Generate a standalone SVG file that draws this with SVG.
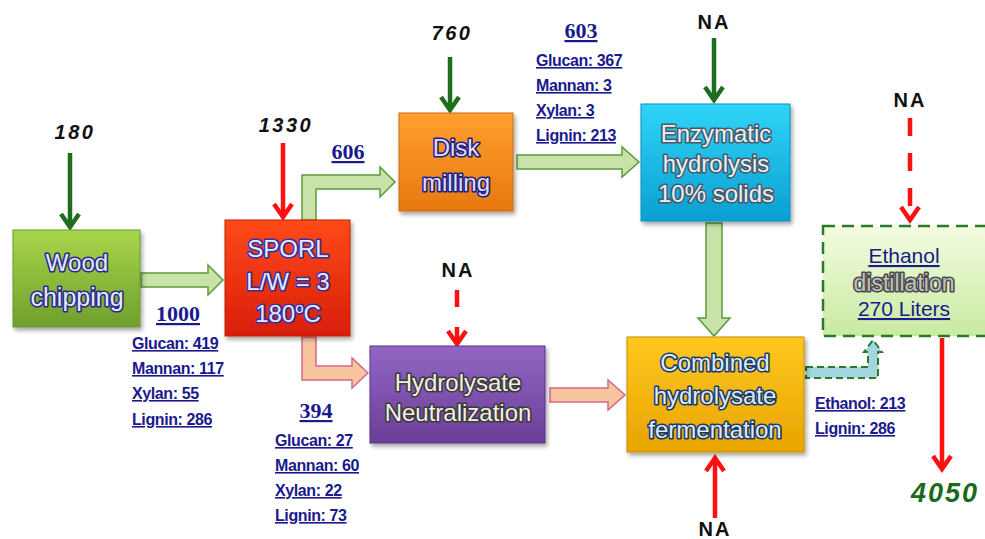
<svg xmlns="http://www.w3.org/2000/svg" width="985" height="539" viewBox="0 0 985 539">
<defs>
<linearGradient id="gGreen" x1="0" y1="0" x2="0" y2="1"><stop offset="0" stop-color="#a8d64a"/><stop offset="1" stop-color="#6f9f2c"/></linearGradient>
<linearGradient id="gRed" x1="0" y1="0" x2="0" y2="1"><stop offset="0" stop-color="#ff4a1a"/><stop offset="1" stop-color="#d81e08"/></linearGradient>
<linearGradient id="gOrange" x1="0" y1="0" x2="0" y2="1"><stop offset="0" stop-color="#ffa030"/><stop offset="1" stop-color="#e8780e"/></linearGradient>
<linearGradient id="gCyan" x1="0" y1="0" x2="0" y2="1"><stop offset="0" stop-color="#30d4f8"/><stop offset="1" stop-color="#0a9fd2"/></linearGradient>
<linearGradient id="gPurple" x1="0" y1="0" x2="0" y2="1"><stop offset="0" stop-color="#9266c4"/><stop offset="1" stop-color="#6a3e98"/></linearGradient>
<linearGradient id="gGold" x1="0" y1="0" x2="0" y2="1"><stop offset="0" stop-color="#ffc820"/><stop offset="1" stop-color="#e8a400"/></linearGradient>
<linearGradient id="gLight" x1="0" y1="0" x2="0" y2="1"><stop offset="0" stop-color="#f4fce0"/><stop offset="1" stop-color="#c8eaa0"/></linearGradient>
<filter id="sh" x="-10%" y="-10%" width="125%" height="130%"><feDropShadow dx="2" dy="3" stdDeviation="2" flood-color="#000" flood-opacity="0.35"/></filter>
</defs>
<style>
.box{filter:url(#sh);}
.bt{font-family:"Liberation Sans",Arial,sans-serif;font-size:24px;text-anchor:middle;paint-order:stroke;stroke-width:3.2px;stroke-linejoin:round;}
.inlab{font-family:"Liberation Sans",Arial,sans-serif;font-weight:bold;font-style:italic;font-size:20px;letter-spacing:2.5px;text-anchor:middle;fill:#111;}
.na{font-family:"Liberation Sans",Arial,sans-serif;font-weight:bold;font-size:20px;letter-spacing:2px;text-anchor:middle;fill:#111;}
.tot{font-family:"Liberation Serif","Times New Roman",serif;font-weight:bold;font-size:22px;text-anchor:middle;fill:#1a1a8c;text-decoration:underline;}
.cmp{font-family:"Liberation Sans",Arial,sans-serif;font-weight:bold;font-size:16px;letter-spacing:-0.4px;fill:#1a1a8c;text-decoration:underline;}
.thG{stroke:#1e6e1e;stroke-width:4.5;fill:none;}
.thR{stroke:#ff1010;stroke-width:4.5;fill:none;}
.blkG{fill:#c8e2a8;stroke:#5c9a3c;stroke-width:1.5;}
.blkP{fill:#f8c4a0;stroke:#d06a88;stroke-width:1.5;}
.blkT{fill:#a4d6e0;stroke:#2a7a2a;stroke-width:2;stroke-dasharray:7 4;}
</style>

<g id="connectors">
<path class="thG" d="M70,153 V226"/><polyline class="thG" points="61,214 70,227 79,214"/>
<path class="thR" d="M283,143 V216"/><polyline class="thR" points="274,204 283,217 292,204"/>
<path class="thG" d="M450,57 V109"/><polyline class="thG" points="441,97 450,110 459,97"/>
<path class="thG" d="M714,38 V99"/><polyline class="thG" points="705,87 714,100 723,87"/>
<path class="thR" d="M910,118 V218" stroke-dasharray="18 17"/><polyline class="thR" points="901,207 910,220 919,207"/>
<path class="thR" d="M457,290 V307 M457,327 V342"/><polyline class="thR" points="448,331 457,344 466,331"/>
<path class="thR" d="M715,518 V460"/><polyline class="thR" points="706,471 715,458 724,471"/>
<path class="thR" d="M942,338 V467"/><polyline class="thR" points="933,456 942,469 951,456"/>
<path class="blkG" d="M141,273 H208 V265 L223,280 L208,295 V287 H141 Z"/>
<path class="blkG" d="M302,220 V175 H380 V167 L395,182 L380,197 V189 H316 V220 Z"/>
<path class="blkG" d="M517,155 H622 V147 L639,162 L622,177 V169 H517 Z"/>
<path class="blkG" d="M706,223 V318 H698 L714,336 L730,318 H722 V223 Z"/>
<path class="blkP" d="M302,337 V380 H352 V388 L368,373 L352,358 V366 H316 V337 Z"/>
<path class="blkP" d="M550,388 H608 V380 L625,395 L608,410 V402 H550 Z"/>
<path class="blkT" d="M806,367 H868 V352 H864 L873,340 L882,352 H878 V378 H806 Z"/>
</g>

<g id="labels">
<text class="inlab" x="75" y="139">180</text>
<text class="inlab" x="286" y="132">1330</text>
<text class="inlab" x="452" y="40">760</text>
<text class="na" x="714" y="29">NA</text>
<text class="na" x="910" y="107">NA</text>
<text class="na" x="458" y="277">NA</text>
<text class="na" x="715" y="536">NA</text>
<text x="945" y="502" style="font-family:'Liberation Sans',Arial,sans-serif;font-weight:bold;font-style:italic;font-size:27px;letter-spacing:2px;text-anchor:middle;fill:#1a6a1a;">4050</text>
<text class="tot" x="348" y="159">606</text>
<text class="tot" x="581" y="38">603</text>
<text class="cmp" x="536" y="66">Glucan: 367</text>
<text class="cmp" x="536" y="91">Mannan: 3</text>
<text class="cmp" x="536" y="116">Xylan: 3</text>
<text class="cmp" x="536" y="141">Lignin: 213</text>
<text class="tot" x="178" y="321">1000</text>
<text class="cmp" x="132" y="349">Glucan: 419</text>
<text class="cmp" x="132" y="374">Mannan: 117</text>
<text class="cmp" x="132" y="399">Xylan: 55</text>
<text class="cmp" x="132" y="425">Lignin: 286</text>
<text class="tot" x="316" y="418">394</text>
<text class="cmp" x="275" y="446">Glucan: 27</text>
<text class="cmp" x="275" y="471">Mannan: 60</text>
<text class="cmp" x="275" y="496">Xylan: 22</text>
<text class="cmp" x="275" y="521">Lignin: 73</text>
<text class="cmp" x="815" y="409">Ethanol: 213</text>
<text class="cmp" x="815" y="434">Lignin: 286</text>
</g>

<g id="wood">
<rect class="box" x="13" y="230" width="127" height="97" fill="url(#gGreen)" stroke="#6a9a30" stroke-width="1"/>
<text class="bt" x="77" y="271" fill="#e6e6ff" stroke="#2a2a8a">Wood</text>
<text class="bt" x="77" y="306" fill="#e6e6ff" stroke="#2a2a8a" style="font-size:25px">chipping</text>
</g>

<g id="sporl">
<rect class="box" x="225" y="220" width="125" height="116" fill="url(#gRed)" stroke="#c02000" stroke-width="1"/>
<text class="bt" x="288" y="257" fill="#e8e8ff" stroke="#3232a0">SPORL</text>
<text class="bt" x="288" y="290" fill="#e8e8ff" stroke="#3232a0">L/W = 3</text>
<text class="bt" x="288" y="322" fill="#e8e8ff" stroke="#3232a0">180<tspan font-size="15" dy="-9">o</tspan><tspan dy="9">C</tspan></text>
</g>

<g id="disk">
<rect class="box" x="399" y="113" width="114" height="98" fill="url(#gOrange)" stroke="#d06a10" stroke-width="1"/>
<text class="bt" x="456" y="156" fill="#dcdcff" stroke="#202080">Disk</text>
<text class="bt" x="456" y="191" fill="#dcdcff" stroke="#202080">milling</text>
</g>

<g id="enzymatic">
<rect class="box" x="641" y="104" width="149" height="117" fill="url(#gCyan)" stroke="#0a90c0" stroke-width="1"/>
<text class="bt" x="716" y="142" fill="#e8f0f4" stroke="#4a5a6a">Enzymatic</text>
<text class="bt" x="716" y="172" fill="#e8f0f4" stroke="#4a5a6a">hydrolysis</text>
<text class="bt" x="716" y="202" fill="#e8f0f4" stroke="#4a5a6a">10% solids</text>
</g>

<g id="hydrolysate">
<rect class="box" x="370" y="346" width="175" height="97" fill="url(#gPurple)" stroke="#5a3088" stroke-width="1"/>
<text class="bt" x="458" y="391" fill="#f2f0e0" stroke="#3a3a3a">Hydrolysate</text>
<text class="bt" x="458" y="421" fill="#f2f0e0" stroke="#3a3a3a">Neutralization</text>
</g>

<g id="combined">
<rect class="box" x="627" y="337" width="177" height="115" fill="url(#gGold)" stroke="#c89000" stroke-width="1"/>
<text class="bt" x="715" y="371" fill="#dceaf8" stroke="#1a3a6a">Combined</text>
<text class="bt" x="715" y="404" fill="#dceaf8" stroke="#1a3a6a">hydrolysate</text>
<text class="bt" x="715" y="438" fill="#dceaf8" stroke="#1a3a6a">fermentation</text>
</g>

<g id="ethanol">
<rect x="823" y="226" width="170" height="110" fill="url(#gLight)" stroke="#2a7a2a" stroke-width="2.5" stroke-dasharray="12 7"/>
<text x="904" y="263" style="font-family:'Liberation Sans',Arial,sans-serif;font-size:21px;text-anchor:middle;fill:#1a1a8c;text-decoration:underline;">Ethanol</text>
<text class="bt" x="904" y="291" fill="#c0c0c0" stroke="#4a4a4a" style="font-size:23px">distillation</text>
<text x="904" y="316" style="font-family:'Liberation Sans',Arial,sans-serif;font-size:21px;text-anchor:middle;fill:#1a1a8c;text-decoration:underline;">270 Liters</text>
</g>
</svg>
